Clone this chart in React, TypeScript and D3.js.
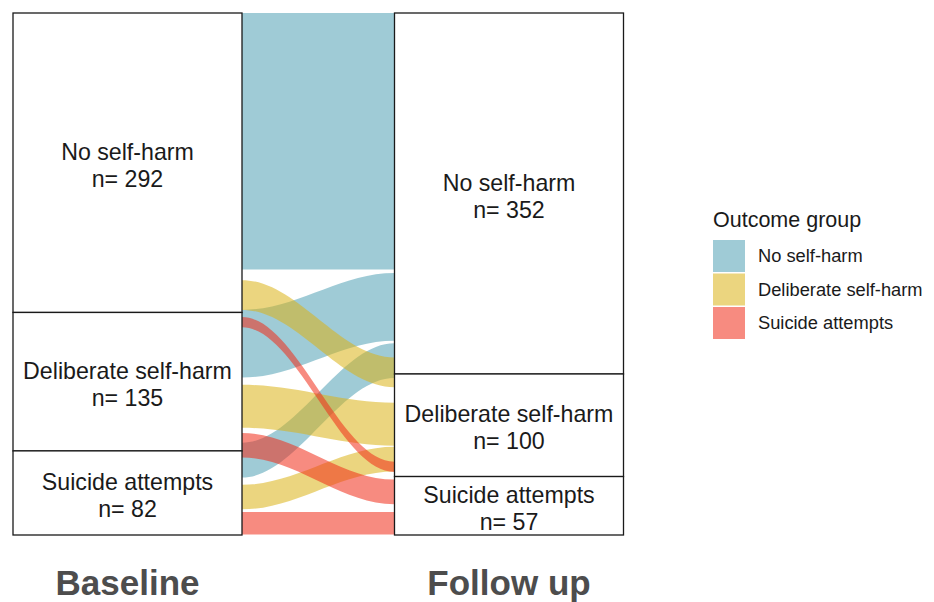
import React, { useEffect, useRef } from 'react';
import * as d3 from 'd3';

// axes and strata
const axes = ['Baseline', 'Follow up'];
const groups = ['No self-harm', 'Deliberate self-harm', 'Suicide attempts'];
const baselineCounts = [292, 135, 82];
const followUpCounts = [352, 100, 57];

// flows (counts of people), with where each flow sits on the two axes (cumulative persons from top)
const flowGroup = ['No self-harm', 'No self-harm', 'No self-harm', 'Deliberate self-harm', 'Deliberate self-harm', 'Deliberate self-harm', 'Suicide attempts', 'Suicide attempts', 'Suicide attempts'];
const flowValue = [250, 66, 34, 29, 42, 24, 10, 24, 22];
const flowStartBaseline = [0, 289.5, 419, 260.5, 362.5, 460, 296.5, 409.5, 486.5];
const flowStartFollowUp = [0, 253.5, 322, 336, 380, 423, 437.5, 455, 486.5];

const colors = ['#50a0b4', '#dbb316', '#f12c18'];

const App: React.FC = () => {
  const ref = useRef<SVGSVGElement>(null);

  useEffect(() => {
    if (!ref.current) return;
    const svg = d3.select(ref.current);
    svg.selectAll('*').remove();

    const total = d3.sum(baselineCounts);
    const y = d3.scaleLinear().domain([0, total]).range([13, 535]);
    const x = d3.scalePoint<string>().domain(axes).range([127.5, 509]);
    const boxW = 229;
    const color = d3.scaleOrdinal<string, string>().domain(groups).range(colors);
    const font = '"Liberation Sans", Arial, sans-serif';

    svg.append('rect').attr('width', 934).attr('height', 602).attr('fill', '#ffffff');

    const x0 = (x('Baseline') || 0) + boxW / 2;
    const x1 = (x('Follow up') || 0) - boxW / 2;
    const ca = x0 + (x1 - x0) * 0.36;
    const cb = x1 - (x1 - x0) * 0.36;

    const flowPath = (a0: number, b0: number, v: number) => {
      const p = d3.path();
      const ya = y(a0), yb = y(b0), ya2 = y(a0 + v), yb2 = y(b0 + v);
      p.moveTo(x0, ya);
      p.bezierCurveTo(ca, ya, cb, yb, x1, yb);
      p.lineTo(x1, yb2);
      p.bezierCurveTo(cb, yb2, ca, ya2, x0, ya2);
      p.closePath();
      return p.toString();
    };

    // draw flows: blue first, then yellow, then red on top
    const order = d3.range(flowValue.length).sort((a, b) => groups.indexOf(flowGroup[a]) - groups.indexOf(flowGroup[b]));
    svg.append('g')
      .selectAll('path')
      .data(order)
      .enter().append('path')
      .attr('d', i => flowPath(flowStartBaseline[i], flowStartFollowUp[i], flowValue[i]))
      .attr('fill', i => color(flowGroup[i]))
      .attr('fill-opacity', 0.55);

    // strata
    const strata = (axis: string, counts: number[]) => {
      const cum = d3.cumsum(counts);
      const g = svg.append('g');
      counts.forEach((c, i) => {
        const top = y(cum[i] - c), bot = y(cum[i]);
        const cx = x(axis) || 0;
        g.append('rect')
          .attr('x', cx - boxW / 2).attr('y', top)
          .attr('width', boxW).attr('height', bot - top)
          .attr('fill', 'white').attr('stroke', '#1a1a1a').attr('stroke-width', 1.3);
        const t = g.append('text')
          .attr('x', cx).attr('y', (top + bot) / 2)
          .attr('text-anchor', 'middle')
          .attr('font-family', font).attr('font-size', 23.2).attr('fill', '#1a1a1a');
        t.append('tspan').attr('x', cx).attr('dy', '-0.12em').text(groups[i]);
        t.append('tspan').attr('x', cx).attr('dy', '1.16em').text(`n= ${c}`);
      });
    };
    strata('Baseline', baselineCounts);
    strata('Follow up', followUpCounts);

    // axis labels
    svg.append('g').selectAll('text')
      .data(axes)
      .enter().append('text')
      .attr('x', d => x(d) || 0)
      .attr('y', 595)
      .attr('text-anchor', 'middle')
      .attr('font-family', font).attr('font-weight', 'bold').attr('font-size', 35)
      .attr('fill', '#4d4d4d')
      .text(d => d);

    // legend
    const lg = svg.append('g').attr('transform', 'translate(713,0)');
    lg.append('text')
      .attr('x', 0).attr('y', 227)
      .attr('font-family', font).attr('font-size', 21.5).attr('fill', '#1a1a1a')
      .text('Outcome group');
    groups.forEach((gname, i) => {
      const ky = 240 + i * 33.5;
      lg.append('rect').attr('x', 0).attr('y', ky).attr('width', 32).attr('height', 32)
        .attr('fill', 'white');
      lg.append('rect').attr('x', 0).attr('y', ky).attr('width', 32).attr('height', 32)
        .attr('fill', color(gname)).attr('fill-opacity', 0.55);
      lg.append('text')
        .attr('x', 45).attr('y', ky + 16).attr('dy', '0.35em')
        .attr('font-family', font).attr('font-size', 18.3).attr('fill', '#1a1a1a')
        .text(gname);
    });
  }, []);

  return (
    <svg ref={ref} width={934} height={602} style={{ position: 'absolute', left: 0, top: 0 }}></svg>
  );
};

export default App;
